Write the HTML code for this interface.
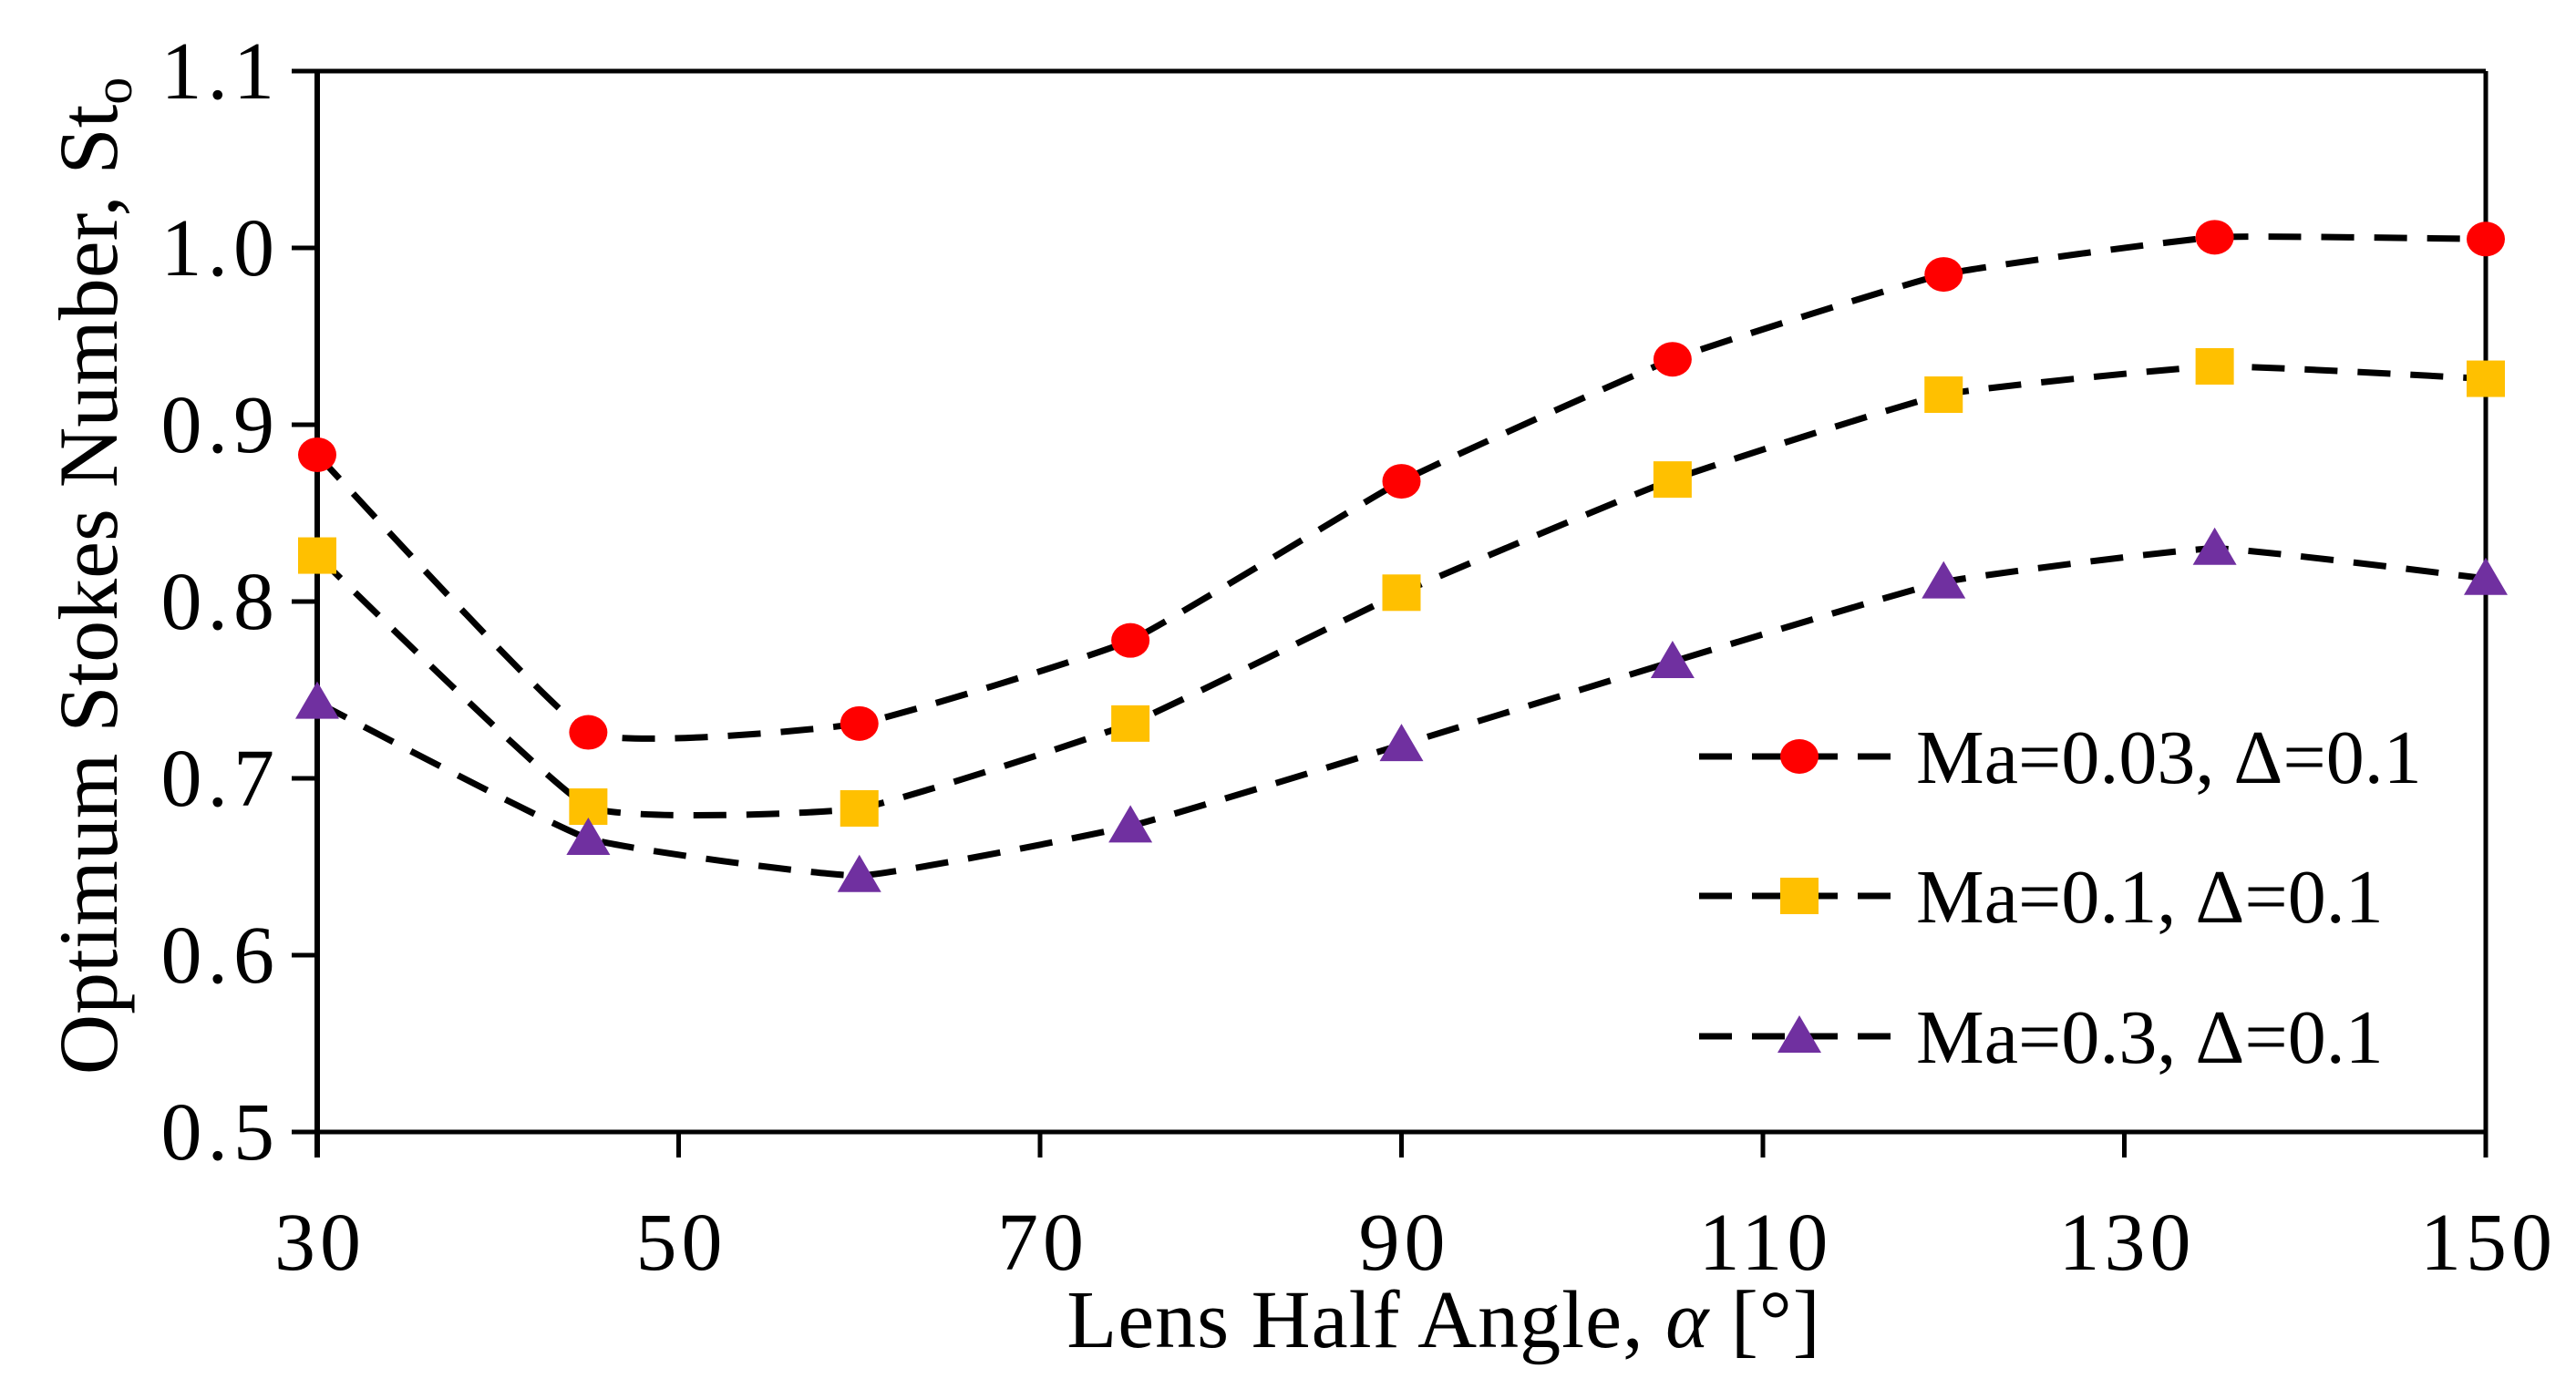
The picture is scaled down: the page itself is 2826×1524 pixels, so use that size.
<!DOCTYPE html>
<html><head><meta charset="utf-8"><style>
html,body{margin:0;padding:0;background:#fff;}
svg{display:block;font-family:"Liberation Serif",serif;}
</style></head><body>
<svg id="chart" width="2826" height="1524" viewBox="0 0 2826 1524" xmlns="http://www.w3.org/2000/svg">
<g id="axes"></g>
<g id="series"></g>
<g id="legend"></g>
<text x="1584" y="1478" font-size="90" letter-spacing="1" text-anchor="middle">Lens Half Angle, <tspan font-style="italic">α</tspan> [°]</text>
<text transform="translate(128,632) rotate(-90)" font-size="92" text-anchor="middle">Optimum Stokes Number, St<tspan font-size="60" dy="16">o</tspan></text>
</svg>
<script>
const angles=[30,45,60,75,90,105,120,135,150];
const seriesMa003=[0.883,0.726,0.731,0.778,0.868,0.937,0.985,1.006,1.005];
const seriesMa01=[0.826,0.684,0.683,0.731,0.805,0.869,0.917,0.933,0.926];
const seriesMa03=[0.743,0.666,0.645,0.673,0.719,0.766,0.811,0.830,0.813];
const xTicks=[30,50,70,90,110,130,150];
const yTicks=[0.5,0.6,0.7,0.8,0.9,1.0,1.1];
const legendLabels=["Ma=0.03, Δ=0.1","Ma=0.1, Δ=0.1","Ma=0.3, Δ=0.1"];

const L=348,R=2727,T=78,B=1242;
const xMin=30,xMax=150,yMin=0.5,yMax=1.1;
function xs(v){return L+(v-xMin)/(xMax-xMin)*(R-L);}
function ys(v){return B-(v-yMin)/(yMax-yMin)*(B-T);}
const NS="http://www.w3.org/2000/svg";
function mk(tag,attrs,parent){const e=document.createElementNS(NS,tag);for(const k in attrs)e.setAttribute(k,attrs[k]);parent.appendChild(e);return e;}
const axes=document.getElementById('axes');
let e;
e=mk('line',{x1:L-28,y1:T,x2:R,y2:T,stroke:'#000','stroke-width':5},axes);


e=mk('line',{x1:R,y1:T,x2:R,y2:B+28,stroke:'#000','stroke-width':5},axes);


e=mk('line',{x1:L,y1:T,x2:L,y2:B+28,stroke:'#000','stroke-width':6},axes);


e=mk('line',{x1:L-28,y1:B,x2:R,y2:B,stroke:'#000','stroke-width':5},axes);


yTicks.forEach(v=>{
  const y=ys(v);
  const t=mk('line',{x1:L-28,y1:y,x2:L,y2:y,stroke:'#000','stroke-width':5},axes);
  
  
  const tx=mk('text',{x:307,y:y+30,'font-size':90,'letter-spacing':6,'text-anchor':'end'},axes);
  tx.textContent=v.toFixed(1);
  
  
});
xTicks.forEach(v=>{
  const x=xs(v);
  const t=mk('line',{x1:x,y1:B,x2:x,y2:B+28,stroke:'#000','stroke-width':5},axes);
  
  
  const tx=mk('text',{x:x+3,y:1393,'font-size':90,'letter-spacing':5,'text-anchor':'middle'},axes);
  tx.textContent=v;
  
  
});
function smoothPath(pts){
  let d=`M${pts[0][0]},${pts[0][1]}`;
  const k=0.06;
  for(let i=0;i<pts.length-1;i++){
    const p0=pts[Math.max(0,i-1)],p1=pts[i],p2=pts[i+1],p3=pts[Math.min(pts.length-1,i+2)];
    const c1=[p1[0]+(p2[0]-p0[0])*k,p1[1]+(p2[1]-p0[1])*k];
    const c2=[p2[0]-(p3[0]-p1[0])*k,p2[1]-(p3[1]-p1[1])*k];
    d+=` C${c1[0]},${c1[1]} ${c2[0]},${c2[1]} ${p2[0]},${p2[1]}`;
  }
  return d;
}
function marker(type,x,y,parent){
  let m;
  if(type==='circle') m=mk('ellipse',{cx:x,cy:y,rx:21,ry:19,fill:'#ff0000'},parent);
  else if(type==='square') m=mk('rect',{x:x-21,y:y-20,width:42,height:40,fill:'#ffc000'},parent);
  else m=mk('polygon',{points:`${x},${y-23} ${x+24},${y+18} ${x-24},${y+18}`,fill:'#7030a0'},parent);
  return m;
}
const sg=document.getElementById('series');
const defs=[[seriesMa003,'circle','ma-0.03'],[seriesMa01,'square','ma-0.1'],[seriesMa03,'triangle','ma-0.3']];
defs.forEach(([vals,type,name])=>{
  const pts=vals.map((v,i)=>[xs(angles[i]),ys(v)]);
  const p=mk('path',{d:smoothPath(pts),fill:'none',stroke:'#000','stroke-width':7,'stroke-dasharray':'36 22'},sg);
  
  
  pts.forEach(q=>{
    const m=marker(type,q[0],q[1],sg);
    
    
  });
});
const lg=document.getElementById('legend');
const rowsY=[830,983,1137];
defs.forEach(([vals,type,name],i)=>{
  const y=rowsY[i];
  const ln=mk('line',{x1:1864,y1:y,x2:2084,y2:y,stroke:'#000','stroke-width':7,'stroke-dasharray':'36 22'},lg);
  
  
  const m=marker(type,1974,y,lg);
  
  
  const t=mk('text',{x:2102,y:y+29,'font-size':84},lg);
  t.textContent=legendLabels[i];
  
  
});
</script>
</body></html>
